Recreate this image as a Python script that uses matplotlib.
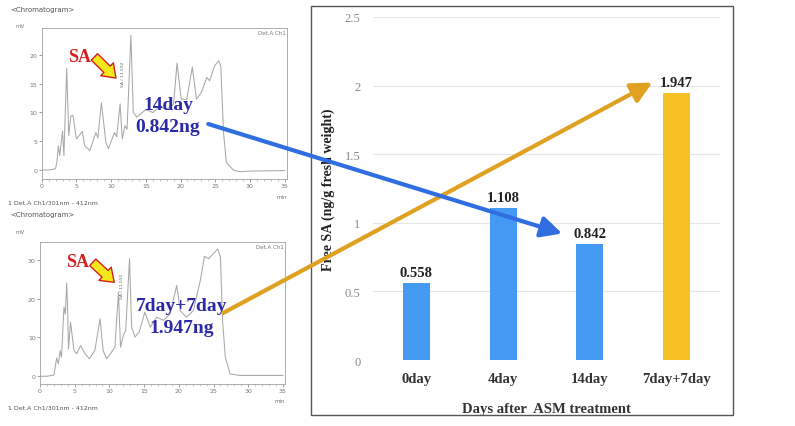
import matplotlib.pyplot as plt
from matplotlib.patches import ConnectionPatch, Rectangle

# bar chart data
days = ['0day', '4day', '14day', '7day+7day']
free_sa = [0.558, 1.108, 0.842, 1.947]
bar_colors = ['#4499f2', '#4499f2', '#4499f2', '#f7c126']

# chromatogram traces (min, mV)
t_top = [0, 1.0, 2.0, 2.2, 2.4, 2.6, 3.0, 3.2, 3.6, 3.9, 4.2, 4.5, 5.0, 5.85, 6.2,
         6.95, 7.8, 8.1, 8.6, 9.25, 9.6, 10.5, 10.8, 11.3, 11.6, 12.0, 12.3, 12.85,
         13.2, 13.7, 14.3, 15.0, 16.0, 17.0, 18.0, 19.0, 19.5, 20.1, 20.9, 21.7,
         22.3, 23.0, 23.8, 24.2, 24.9, 25.5, 25.8, 26.2, 26.6, 27.6, 28.5, 30, 35]
mv_top = [0, 0, 0.2, 1.5, 4.2, 2.5, 6.8, 2.5, 17.7, 6.0, 9.4, 9.5, 5.4, 6.7, 4.2,
          3.4, 6.5, 5.6, 11.7, 4.8, 3.7, 6.5, 5.8, 11.5, 5.4, 7.7, 7.1, 23.4,
          10.0, 9.2, 9.8, 10.5, 10.0, 11.0, 10.5, 11.5, 18.6, 12.3, 12.3, 17.9,
          12.3, 13.5, 16.1, 15.5, 18.1, 19.0, 18.1, 6.5, 1.3, 0, -0.3, -0.2, -0.1]

t_bot = [0, 1.0, 2.0, 2.15, 2.4, 2.65, 2.9, 3.1, 3.45, 3.65, 3.85, 4.0, 4.1, 4.4,
         4.9, 5.3, 5.85, 6.5, 7.1, 7.9, 8.65, 9.1, 9.6, 10.3, 10.8, 11.3, 11.6,
         12.0, 12.35, 12.9, 13.2, 13.7, 14.3, 15.1, 15.9, 16.8, 17.8, 18.75, 19.7,
         20.2, 21.1, 22.1, 23.1, 23.7, 24.3, 25.0, 25.6, 26.0, 26.3, 26.7, 27.4,
         28.8, 35]
mv_bot = [0, 0, 0.3, 1.9, 4.7, 3.2, 6.6, 4.9, 17.8, 16.0, 24.0, 16.0, 7.0, 13.9,
          6.6, 5.8, 7.9, 5.8, 4.5, 6.6, 14.8, 6.6, 4.5, 6.2, 7.5, 21.7, 7.5,
          10.5, 11.8, 30.3, 12.6, 10.1, 11.4, 16.5, 12.6, 15.2, 14.4, 16.1, 23.4,
          16.9, 15.2, 16.9, 24.7, 30.9, 30.3, 31.6, 32.8, 30.7, 14.4, 4.9, 0.6,
          0.2, 0.2]

serif = ['Liberation Serif', 'DejaVu Serif']
plt.rcParams['font.family'] = ['DejaVu Sans']

fig = plt.figure(figsize=(7.95, 4.27), dpi=100)


def chromatogram(rect, t, mv, ylim, yticks, sa_xy, label_lines, fig_y0):
    ax = fig.add_axes(rect)
    ax.plot(t, mv, color='#a8a8a8', lw=0.75)
    ax.set_xlim(0, 35.3)
    ax.set_ylim(*ylim)
    ax.set_xticks(range(0, 36, 5))
    ax.set_xticks(range(0, 36), minor=True)
    ax.set_yticks(yticks)
    ax.tick_params(labelsize=4.5, colors='#777777', length=2, width=0.5, pad=1)
    ax.tick_params(which='minor', length=1.5, width=0.4, colors='#999999')
    for s in ax.spines.values():
        s.set_color('#a0a0a0')
        s.set_linewidth(0.6)
    ax.text(0.995, 0.985, 'Det.A Ch1', transform=ax.transAxes, ha='right', va='top',
            fontsize=4, color='#777777')
    ax.text(1.0, -0.1, 'min', transform=ax.transAxes, ha='right', va='top',
            fontsize=4, color='#777777')
    ax.text(11.75, ylim[1] * 0.68, 'SA / 11.592', rotation=90, fontsize=3.2,
            color='#666666', ha='center', va='center')
    fig.text(10 / 795, 1 - (fig_y0 + 10) / 427, '<Chromatogram>', fontsize=5,
             color='#555555', va='center')
    fig.text(15 / 795, 1 - (fig_y0 + 27) / 427, 'mV', fontsize=4, color='#777777',
             va='center')
    fig.text(8 / 795, 1 - (fig_y0 + 203) / 427, '1 Det.A Ch1/301nm - 412nm',
             fontsize=4.5, color='#555555', va='center')
    # SA label and arrow
    ax.text(sa_xy[0], sa_xy[1], 'SA', color='#d42020', fontsize=13, fontweight='bold',
            family=serif, ha='center', va='center')
    span = ylim[1] - ylim[0]
    ax.annotate('', xy=(sa_xy[0] + 5.3, sa_xy[1] - span * 0.145),
                xytext=(sa_xy[0] + 2.2, sa_xy[1] - span * 0.005),
                arrowprops=dict(arrowstyle='simple,head_length=0.9,head_width=1.3,tail_width=0.65',
                                fc='#f5e81a', ec='#d42020', lw=1.0,
                                shrinkA=0, shrinkB=0, mutation_scale=10))
    for (x, y, s) in label_lines:
        ax.text(x, y, s, color='#2a2aa8', fontsize=14, fontweight='bold',
                family=serif, ha='center', va='center')
    return ax


ax_top = chromatogram([41.7 / 795, 1 - 180 / 427, 245 / 795, 151 / 427],
                      t_top, mv_top, (-1.57, 24.7), [0, 5, 10, 15, 20],
                      (5.4, 19.8), [(18.2, 11.4, '14day'), (18.2, 7.6, '0.842ng')], 0)
ax_bot = chromatogram([40 / 795, 1 - 385 / 427, 245 / 795, 141.7 / 427],
                      t_bot, mv_bot, (-2.0, 34.5), [0, 10, 20, 30],
                      (5.4, 29.5), [(20.4, 18.2, '7day+7day'), (20.4, 12.6, '1.947ng')], 205)

# bar chart
ax = fig.add_axes([373 / 795, 1 - 361 / 427, 347 / 795, 343 / 427])
x = range(len(days))
ax.bar(x, free_sa, width=0.31, color=bar_colors, zorder=2)
ax.set_xlim(-0.5, 3.5)
ax.set_ylim(0, 2.5)
ax.set_yticks([0, 0.5, 1, 1.5, 2, 2.5])
ax.set_yticklabels(['0', '0.5', '1', '1.5', '2', '2.5'], family=serif, fontsize=9,
                   color='#888888')
ax.set_xticks(list(x))
ax.set_xticklabels(days, family=serif, fontsize=10.5, fontweight='bold', color='#333333')
ax.tick_params(length=0)
ax.tick_params(axis='x', pad=9)
ax.tick_params(axis='y', pad=9)
ax.grid(axis='y', color='#e6e6e6', lw=0.8, zorder=0)
for s in ax.spines.values():
    s.set_visible(False)
for i, v in enumerate(free_sa):
    ax.text(i, v + 0.03, f'{v:.3f}', ha='center', va='bottom', family=serif,
            fontsize=10.5, fontweight='bold', color='#222222')
ax.set_ylabel('Free SA (ng/g fresh weight)', family=serif, fontsize=10,
              fontweight='bold', color='#222222', labelpad=7)
ax.set_xlabel('Days after  ASM treatment', family=serif, fontsize=10.5,
              fontweight='bold', color='#333333', labelpad=12)

fig.add_artist(Rectangle((311 / 795, 1 - 416 / 427), 422 / 795, 409 / 427,
                         transform=fig.transFigure, fill=False, ec='#555555', lw=1.0))

# connecting arrows
blue = ConnectionPatch(xyA=(24.0, 8.0), coordsA=ax_top.transData,
                       xyB=(2 - 0.32, free_sa[2] + 0.08), coordsB=ax.transData,
                       arrowstyle='-|>,head_length=0.9,head_width=0.45',
                       mutation_scale=14, color='#2f6de0', lw=3, zorder=10)
orange = ConnectionPatch(xyA=(26.4, 16.3), coordsA=ax_bot.transData,
                         xyB=(3 - 0.28, free_sa[3] + 0.075), coordsB=ax.transData,
                         arrowstyle='-|>,head_length=0.9,head_width=0.45',
                         mutation_scale=14, color='#e0a020', lw=3, zorder=10)
fig.add_artist(orange)
fig.add_artist(blue)

fig.savefig('out.png', dpi=100)
